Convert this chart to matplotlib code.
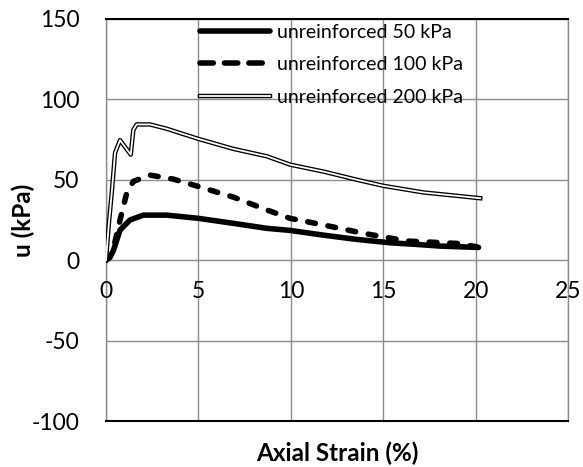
import matplotlib.pyplot as plt
import matplotlib.patheffects as pe
from matplotlib.lines import Line2D

plt.rcParams['font.family'] = ['Lato', 'DejaVu Sans']
plt.rcParams['axes.unicode_minus'] = False

# Data
strain_50 = [0.0, 0.2, 0.4, 0.76, 1.3, 2.02, 3.29, 5.0, 6.89, 8.7, 9.96, 11.8, 13.57, 15.38, 16.8, 18.08, 19.2, 20.16]
u_50 = [0.0, 1.5, 6.0, 18.75, 25.0, 28.0, 28.0, 26.0, 22.9, 19.8, 18.5, 15.5, 12.9, 10.8, 9.8, 8.75, 8.3, 7.9]

strain_100 = [0.0, 0.25, 0.5, 0.76, 1.12, 1.48, 2.38, 3.64, 5.0, 6.89, 8.7, 9.96, 11.77, 13.93, 16.28, 18.99, 20.07]
u_100 = [0.0, 3.0, 12.0, 25.0, 41.7, 49.0, 52.9, 50.4, 45.8, 39.2, 31.25, 26.0, 21.9, 16.7, 11.9, 10.4, 8.3]

strain_200 = [0.0, 0.15, 0.31, 0.49, 0.76, 1.34, 1.48, 1.66, 2.38, 3.29, 5.0, 6.89, 8.7, 9.96, 11.8, 13.57, 15.0, 17.18, 18.99, 20.25]
u_200 = [0.0, 22.0, 41.7, 66.7, 74.6, 65.6, 81.0, 84.4, 84.4, 81.7, 75.4, 69.2, 64.6, 59.4, 55.0, 50.0, 46.25, 42.1, 40.0, 38.5]

labels = ["unreinforced 50 kPa", "unreinforced 100 kPa", "unreinforced 200 kPa"]
x_ticks = [0, 5, 10, 15, 20, 25]
y_ticks = [-100, -50, 0, 50, 100, 150]

fig = plt.figure(figsize=(5.83, 4.67), dpi=100)
ax = fig.add_axes([0.1818, 0.0985, 0.7925, 0.861])

double = [pe.Stroke(linewidth=3.2, foreground='black'), pe.Stroke(linewidth=1.3, foreground='white')]
dash_plot = (0, (1.4, 2.3))

ax.plot(strain_50, u_50, color='black', lw=4, solid_capstyle='round', solid_joinstyle='round', zorder=3)
ax.plot(strain_100, u_100, color='black', lw=4, ls=dash_plot, dash_capstyle='round', zorder=3)
ax.plot(strain_200, u_200, color='black', lw=3.2, path_effects=double, zorder=4)

ax.set_xlim(0, 25)
ax.set_ylim(-100, 150)
ax.set_xticks(x_ticks)
ax.set_yticks(y_ticks)
ax.grid(True, color='#8c8c8c', lw=1.0)
ax.set_axisbelow(True)
ax.tick_params(length=0, labelsize=16.5)
ax.tick_params(axis='y', pad=19)
ax.set_xticklabels([])

# x tick labels sit just under the y=0 line, as in the original
for t in x_ticks:
    ax.annotate(str(t), xy=(t, 0), xytext=(0, -15), textcoords='offset points',
                ha='center', va='top', fontsize=16.5)

for s in ['left', 'right']:
    ax.spines[s].set_color('#8c8c8c')
    ax.spines[s].set_linewidth(1.0)
for s in ['top', 'bottom']:
    ax.spines[s].set_color('black')
    ax.spines[s].set_linewidth(1.5)

ax.set_xlabel("Axial Strain (%)", fontsize=17.5, fontweight='bold')
ax.xaxis.set_label_coords(0.5, -0.08)
ax.xaxis.label.set_va('center')
ax.set_ylabel("u (kPa)", fontsize=17.5, fontweight='bold')
ax.yaxis.set_label_coords(-0.18, 0.5)
ax.yaxis.label.set_va('center')

h1 = Line2D([], [], color='black', lw=4, solid_capstyle='round')
h2 = Line2D([], [], color='black', lw=4, ls=(0, (2.4, 2.0)), dash_capstyle='round')
h3 = Line2D([], [], color='black', lw=3.2, path_effects=double)
leg = ax.legend([h1, h2, h3], labels, loc='upper left', bbox_to_anchor=(0.203, 0.988),
                frameon=False, fontsize=14, handlelength=3.6, handletextpad=0.37,
                labelspacing=0.8, borderpad=0, borderaxespad=0)

plt.savefig("out.png", dpi=100)
